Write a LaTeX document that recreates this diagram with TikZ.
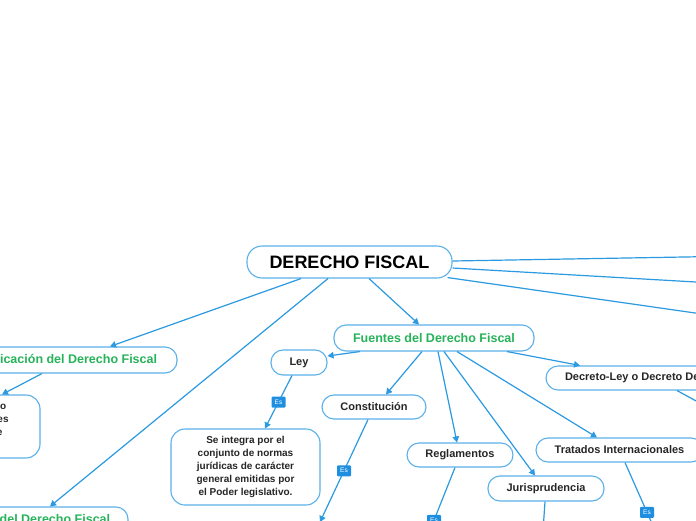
\documentclass[tikz,border=0pt]{standalone}
\usepackage{fontspec}
\setmainfont{Liberation Sans}
\usetikzlibrary{arrows.meta}
\definecolor{connc}{HTML}{2B9AE0}
\definecolor{bord}{HTML}{5AB0EA}
\definecolor{grn}{HTML}{27B35A}
\definecolor{esblue}{HTML}{1E8FE0}
\definecolor{txt}{HTML}{262626}
\begin{document}
\begin{tikzpicture}[x=1pt,y=-1pt,
  box/.style={draw=bord, line width=1.1pt, rounded corners=12pt, fill=white, align=center,
    inner sep=0pt, font=\bfseries\fontsize{11}{13}\selectfont, text=txt},
  gbox/.style={box, text=grn, font=\bfseries\fontsize{12.5}{14}\selectfont},
  body/.style={box, font=\bfseries\fontsize{10}{13}\selectfont, rounded corners=14pt},
  conn/.style={draw=connc, line width=1.2pt, -{Triangle[length=6pt,width=6.5pt]}},
  eslab/.style={fill=esblue, text=white, font=\fontsize{6.5}{7}\selectfont,
    minimum width=14pt, minimum height=11pt, inner sep=0pt, rounded corners=1pt},
]
\useasboundingbox (0,0) rectangle (696,520);
\clip (0,0) rectangle (696,520);
\fill[white] (0,0) rectangle (696,520);

% nodes
\node[box, text=black, font=\bfseries\fontsize{18}{20}\selectfont, rounded corners=15pt,
  minimum width=205pt, minimum height=32pt] (title) at (349.5,262) {DERECHO FISCAL};
\node[gbox, minimum width=217pt, minimum height=26pt] (aplic) at (68.5,360) {Aplicación del Derecho Fiscal};
\node[body, minimum width=154pt, minimum height=63pt] (aplbody) at (-37,426.5)
  {Se refiere al modo\\de aplicar las leyes\\tributarias sobre\\los sujetos.};
\node[gbox, minimum width=233pt, minimum height=26pt] (interp) at (11.5,520) {Interpretación del Derecho Fiscal};
\node[gbox, minimum width=200pt, minimum height=26pt] (fuentes) at (434,338) {Fuentes del Derecho Fiscal};
\node[box, minimum width=56pt, minimum height=25pt] (ley) at (299,362.5) {Ley};
\node[body, minimum width=149pt, minimum height=76pt] (seint) at (245.5,467)
  {Se integra por el\\conjunto de normas\\jurídicas de carácter\\general emitidas por\\el Poder legislativo.};
\node[box, minimum width=104pt, minimum height=24pt] (const) at (374,407) {Constitución};
\node[box, minimum width=106pt, minimum height=24pt] (regl) at (460,455) {Reglamentos};
\node[box, minimum width=116pt, minimum height=25pt] (juris) at (546,488.5) {Jurisprudencia};
\node[box, minimum width=167pt, minimum height=24pt] (trat) at (619.5,450) {Tratados Internacionales};
\node[box, minimum width=208pt, minimum height=24pt] (decreto) at (650,378) {Decreto-Ley o Decreto Delegado};

% off-page ends
\coordinate (r1) at (800,255);
\coordinate (r2) at (800,288);
\coordinate (r3) at (800,328);
\coordinate (constchild) at (320,522);
\coordinate (reglchild) at (413,573);
\coordinate (jurischild) at (541,560);
\coordinate (tratchild) at (669,562);
\coordinate (decchild) at (753,432);

% connectors
\draw[conn] ([xshift=-48.5pt]title.south) -- ([xshift=41.5pt]aplic.north);
\draw[conn] ([xshift=-21.5pt]title.south) -- ([xshift=38.5pt]interp.north);
\draw[conn] ([xshift=19.5pt]title.south) -- ([xshift=-15pt]fuentes.north);
\draw[conn] ([yshift=1pt]title.east) -- (r1);
\draw[conn] ([yshift=-6pt]title.east) -- (r2);
\draw[conn] ([xshift=-5pt,yshift=1pt]title.south east) -- (r3);
\draw[conn] ([xshift=-26.5pt]aplic.south) -- ([xshift=39pt]aplbody.north);

\draw[conn] ([xshift=-74pt]fuentes.south) -- ([yshift=6.5pt]ley.east);
\draw[conn] ([xshift=-12pt]fuentes.south) -- ([xshift=12pt]const.north);
\draw[conn] ([xshift=4pt]fuentes.south) -- ([xshift=-3pt]regl.north);
\draw[conn] ([xshift=10pt]fuentes.south) -- ([xshift=-11pt]juris.north);
\draw[conn] ([xshift=23pt]fuentes.south) -- ([xshift=-22.5pt]trat.north);
\draw[conn] ([xshift=73pt]fuentes.south) -- ([xshift=-70pt]decreto.north);

\draw[conn] ([xshift=-7pt]ley.south) -- node[eslab]{Es} ([xshift=19.5pt]seint.north);
\draw[conn] ([xshift=-6pt]const.south) -- node[eslab]{Es} (constchild);
\draw[conn] ([xshift=-5pt]regl.south) -- node[eslab]{Es} (reglchild);
\draw[conn] ([xshift=-1pt]juris.south) -- node[eslab]{Es} (jurischild);
\draw[conn] ([xshift=5.5pt]trat.south) -- node[eslab]{Es} (tratchild);
\draw[conn] ([xshift=27pt]decreto.south) -- (decchild);
\end{tikzpicture}
\end{document}
